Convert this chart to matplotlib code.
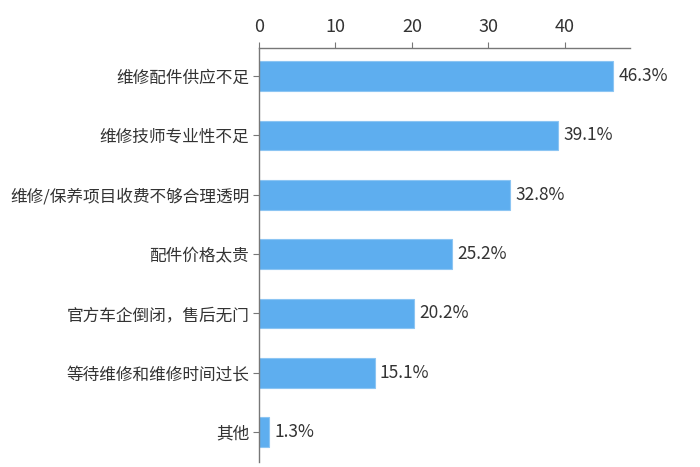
import matplotlib
matplotlib.use("Agg")
import matplotlib.pyplot as plt

plt.rcParams['font.family'] = ['Noto Sans CJK SC', 'DejaVu Sans']

categories = ["维修配件供应不足", "维修技师专业性不足", "维修/保养项目收费不够合理透明",
              "配件价格太贵", "官方车企倒闭，售后无门", "等待维修和维修时间过长", "其他"]
values = [46.3, 39.1, 32.8, 25.2, 20.2, 15.1, 1.3]
xticks = [0, 10, 20, 30, 40]

bar_color = "#5EAEEF"
text_color = "#333333"
axis_color = "#777777"

fig = plt.figure(figsize=(7, 4.67), dpi=100)
ax = fig.add_axes([0.37, 0.011, 0.53, 0.886])

pos = list(range(len(categories)))
ax.barh(pos, values, height=0.5, color=bar_color, edgecolor="#8CC5F3", linewidth=0.8)
for p, v in zip(pos, values):
    ax.text(v + 0.7, p, f"{v}%", va="center", ha="left", fontsize=12.5,
            color=text_color, fontweight="medium")

ax.set_yticks(pos)
ax.set_yticklabels(categories, fontsize=12, color=text_color, fontweight="medium")
ax.set_ylim(6.5, -0.47)
ax.set_xlim(0, 48.5)
ax.set_xticks(xticks)
ax.xaxis.tick_top()
ax.tick_params(axis="x", labelsize=13, colors=text_color, length=4, color=axis_color, pad=5)
ax.tick_params(axis="y", length=4, color=axis_color, pad=3)
for s in ["right", "bottom"]:
    ax.spines[s].set_visible(False)
for s in ["left", "top"]:
    ax.spines[s].set_color(axis_color)
    ax.spines[s].set_linewidth(1.0)

fig.savefig("out.png", dpi=100)
